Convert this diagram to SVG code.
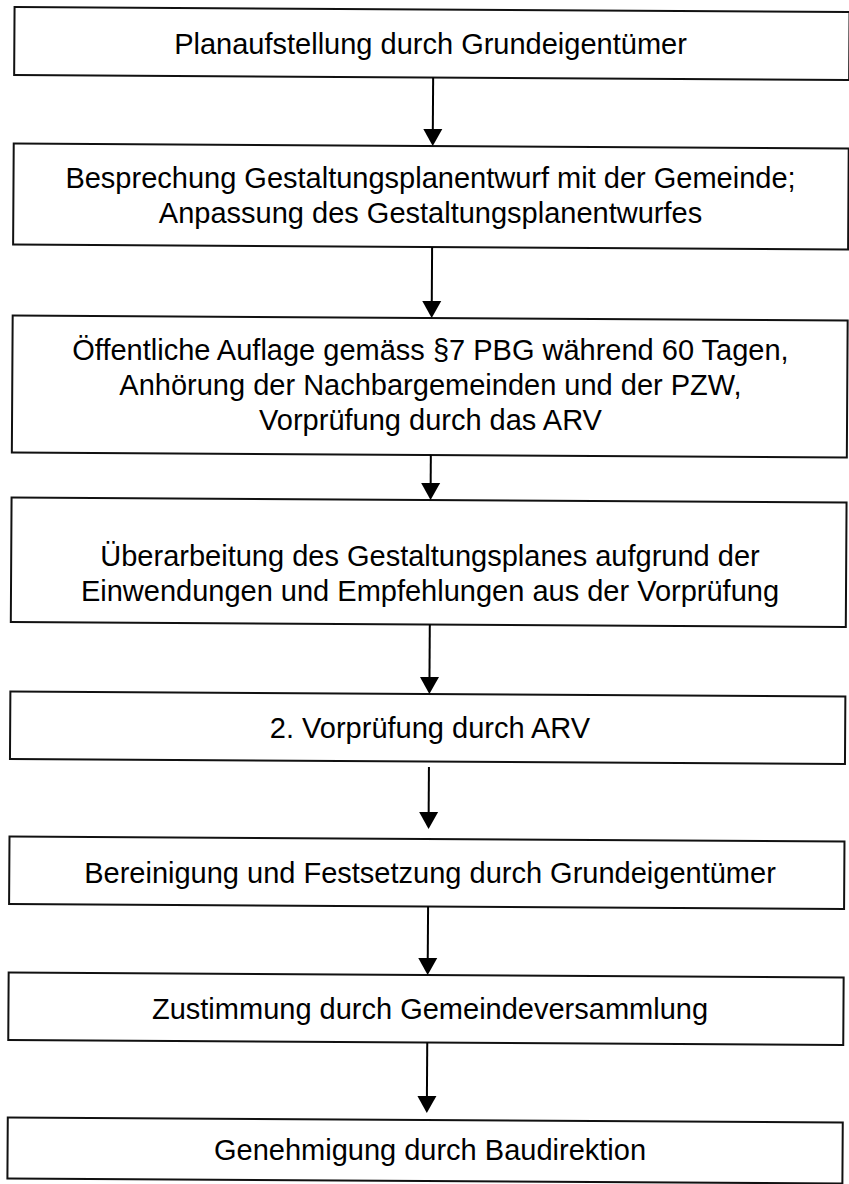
<svg xmlns="http://www.w3.org/2000/svg" width="849" height="1184" viewBox="0 0 849 1184">
<defs>
<style>
.box{fill:#ffffff;stroke:#111111;stroke-width:2}
.lbl{font-family:"Liberation Sans",Arial,sans-serif;font-size:29px;fill:#000000;text-anchor:middle}
.con{stroke:#000000;stroke-width:2;fill:none}
.head{fill:#000000;stroke:none}
</style>
</defs>
<rect width="849" height="1184" fill="#ffffff"/>
<g transform="rotate(0.35 430 592)">
<g id="n1"><rect class="box" x="11" y="9.5" width="835" height="68"/></g>
<g id="n2"><rect class="box" x="11" y="146" width="835" height="101"/></g>
<g id="n3"><rect class="box" x="11" y="318" width="835" height="137"/></g>
<g id="n4"><rect class="box" x="11" y="500" width="835" height="124.5"/></g>
<g id="n5"><rect class="box" x="11" y="694" width="835" height="67.5"/></g>
<g id="n6"><rect class="box" x="11" y="839" width="835" height="67.5"/></g>
<g id="n7"><rect class="box" x="11" y="975" width="835" height="67.5"/></g>
<g id="n8"><rect class="box" x="11" y="1120" width="835" height="61"/></g>
<g id="connectors">
<line class="con" x1="430" y1="77.5" x2="430" y2="130"/><polygon class="head" points="420.5,129 439.5,129 430,146"/>
<line class="con" x1="430" y1="247" x2="430" y2="302"/><polygon class="head" points="420.5,301 439.5,301 430,318"/>
<line class="con" x1="430" y1="455" x2="430" y2="484"/><polygon class="head" points="420.5,483 439.5,483 430,500"/>
<line class="con" x1="430" y1="624.5" x2="430" y2="678"/><polygon class="head" points="420.5,677 439.5,677 430,694"/>
<line class="con" x1="430" y1="767" x2="430" y2="813"/><polygon class="head" points="420.5,812 439.5,812 430,829"/>
<line class="con" x1="430" y1="906.5" x2="430" y2="959"/><polygon class="head" points="420.5,958 439.5,958 430,975"/>
<line class="con" x1="430" y1="1042.5" x2="430" y2="1097"/><polygon class="head" points="420.5,1096 439.5,1096 430,1113"/>
</g>
</g>
<g id="labels">
<text class="lbl" x="430.5" y="53.5">Planaufstellung durch Grundeigentümer</text>
<text class="lbl" x="430.5" y="188">Besprechung Gestaltungsplanentwurf mit der Gemeinde;</text>
<text class="lbl" x="430.5" y="223">Anpassung des Gestaltungsplanentwurfes</text>
<text class="lbl" x="430.5" y="360">Öffentliche Auflage gemäss §7 PBG während 60 Tagen,</text>
<text class="lbl" x="430.5" y="395">Anhörung der Nachbargemeinden und der PZW,</text>
<text class="lbl" x="430.5" y="430">Vorprüfung durch das ARV</text>
<text class="lbl" x="430" y="566">Überarbeitung des Gestaltungsplanes aufgrund der</text>
<text class="lbl" x="430" y="601">Einwendungen und Empfehlungen aus der Vorprüfung</text>
<text class="lbl" x="430" y="738">2. Vorprüfung durch ARV</text>
<text class="lbl" x="430" y="883">Bereinigung und Festsetzung durch Grundeigentümer</text>
<text class="lbl" x="430" y="1019">Zustimmung durch Gemeindeversammlung</text>
<text class="lbl" x="430" y="1160">Genehmigung durch Baudirektion</text>
</g>
</svg>
